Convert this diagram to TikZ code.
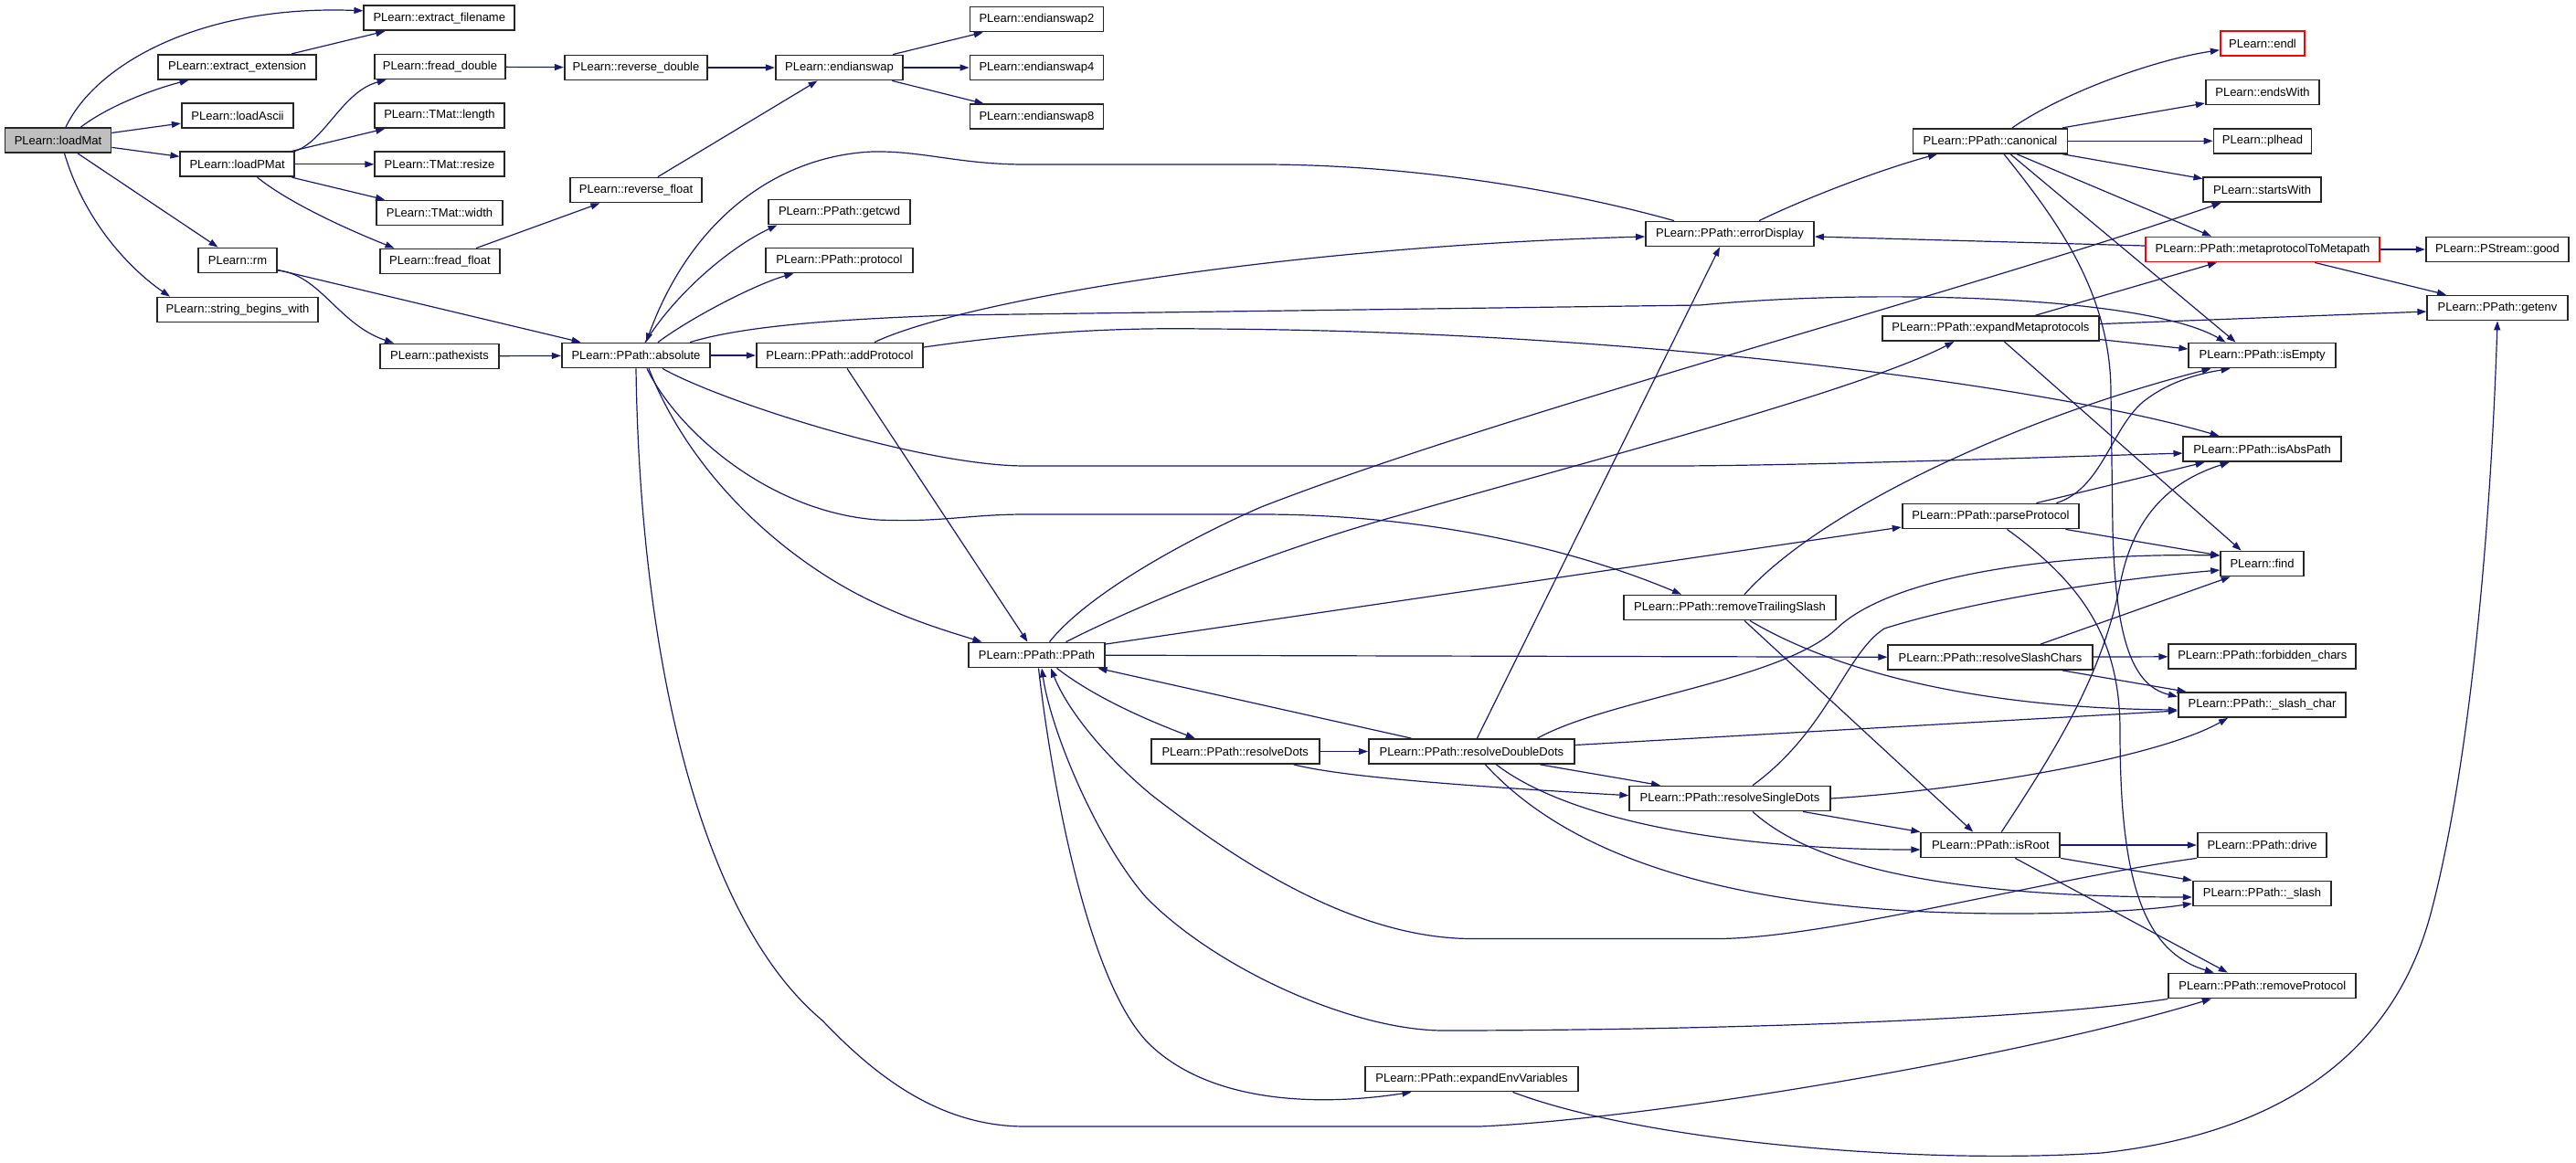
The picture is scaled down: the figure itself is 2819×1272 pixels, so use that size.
\documentclass[tikz,border=0pt]{standalone}
\usepackage{fontspec}
\setmainfont{Liberation Sans}
\usetikzlibrary{arrows.meta}
\pgfdeclarelayer{bg}
\pgfsetlayers{bg,main}
\definecolor{edgec}{HTML}{191970}
\definecolor{rootfill}{HTML}{BFBFBF}
\begin{document}
\begin{tikzpicture}[x=1pt,y=-1pt,
  fn/.style={draw=black!85, line width=1.8pt, fill=white, minimum height=27pt, inner xsep=2pt, inner ysep=0pt, font=\fontsize{13}{15}\selectfont},
  redfn/.style={fn, draw=red},
  edg/.style={draw=edgec, line width=1.2pt, -{Triangle[length=10pt,width=7pt]}}]
\useasboundingbox (0,0) rectangle (2819,1272);
% ---------- nodes
\node[fn,fill=rootfill,minimum width=116pt] (loadMat) at (63.5,153.5) {PLearn::loadMat};
\node[fn,minimum width=165pt] (extractFilename) at (480.8,19.8) {PLearn::extract\_filename};
\node[fn,minimum width=172.5pt] (extractExtension) at (259.6,73.3) {PLearn::extract\_extension};
\node[fn,minimum width=122.5pt] (loadAscii) at (260,126.5) {PLearn::loadAscii};
\node[fn,minimum width=124.5pt] (loadPMat) at (259.6,179.8) {PLearn::loadPMat};
\node[fn,minimum width=143.5pt] (freadDouble) at (481.5,73) {PLearn::fread\_double};
\node[fn,minimum width=141.5pt] (tmatLength) at (481,126.5) {PLearn::TMat::length};
\node[fn,minimum width=141.5pt] (tmatResize) at (481,179.8) {PLearn::TMat::resize};
\node[fn,minimum width=138.5pt] (tmatWidth) at (481,233) {PLearn::TMat::width};
\node[fn,minimum width=130.5pt] (freadFloat) at (481.5,286) {PLearn::fread\_float};
\node[fn,minimum width=85.5pt] (rm) at (260,285) {PLearn::rm};
\node[fn,minimum width=176.5pt] (stringBegins) at (260,339) {PLearn::string\_begins\_with};
\node[fn,minimum width=156.5pt] (reverseDouble) at (696,74) {PLearn::reverse\_double};
\node[fn,minimum width=144.5pt] (reverseFloat) at (696,208) {PLearn::reverse\_float};
\node[fn,minimum width=139.5pt] (endianswap) at (918.5,74) {PLearn::endianswap};
\node[fn,minimum width=129.5pt] (pathexists) at (481,390) {PLearn::pathexists};
\node[fn,minimum width=162.5pt] (absolute) at (696,389) {PLearn::PPath::absolute};
\node[fn,minimum width=155.5pt] (getcwd) at (918.5,232) {PLearn::PPath::getcwd};
\node[fn,minimum width=160.5pt] (protocol) at (918.5,285) {PLearn::PPath::protocol};
\node[fn,minimum width=182.5pt] (addProtocol) at (919,389) {PLearn::PPath::addProtocol};
\node[fn,minimum width=146pt] (endianswapTwo) at (1134.4,21) {PLearn::endianswap2};
\node[fn,minimum width=146pt] (endianswapFour) at (1134.4,74) {PLearn::endianswap4};
\node[fn,minimum width=146pt] (endianswapEight) at (1134.4,127.8) {PLearn::endianswap8};
\node[fn,minimum width=149.5pt] (PPath) at (1134.5,717) {PLearn::PPath::PPath};
\node[fn,minimum width=184pt] (resolveDots) at (1351.7,822.5) {PLearn::PPath::resolveDots};
\node[fn,minimum width=225pt] (resolveDoubleDots) at (1610.4,822.5) {PLearn::PPath::resolveDoubleDots};
\node[fn,minimum width=233.5pt] (expandEnvVariables) at (1610.5,1181) {PLearn::PPath::expandEnvVariables};
\node[fn,minimum width=184pt] (errorDisplay) at (1893,256) {PLearn::PPath::errorDisplay};
\node[fn,minimum width=232pt] (removeTrailingSlash) at (1893,665) {PLearn::PPath::removeTrailingSlash};
\node[fn,minimum width=219.5pt] (resolveSingleDots) at (1893,874) {PLearn::PPath::resolveSingleDots};
\node[fn,minimum width=169pt] (canonical) at (2178,154.3) {PLearn::PPath::canonical};
\node[fn,minimum width=237.5pt] (expandMetaprotocols) at (2178.4,359.6) {PLearn::PPath::expandMetaprotocols};
\node[fn,minimum width=193.5pt] (parseProtocol) at (2178.4,565) {PLearn::PPath::parseProtocol};
\node[fn,minimum width=223.5pt] (resolveSlashChars) at (2178,719.5) {PLearn::PPath::resolveSlashChars};
\node[fn,minimum width=152pt] (isRoot) at (2178.3,925) {PLearn::PPath::isRoot};
\node[redfn,minimum width=92.5pt] (endl) at (2476,47.8) {PLearn::endl};
\node[fn,minimum width=124.5pt] (endsWith) at (2476,101) {PLearn::endsWith};
\node[fn,minimum width=107pt] (plhead) at (2476,154.3) {PLearn::plhead};
\node[fn,minimum width=128.5pt] (startsWith) at (2475.6,207.6) {PLearn::startsWith};
\node[redfn,minimum width=256.5pt] (metaToMeta) at (2476,273) {PLearn::PPath::metaprotocolToMetapath};
\node[fn,minimum width=160.5pt] (isEmpty) at (2475.6,389) {PLearn::PPath::isEmpty};
\node[fn,minimum width=172.5pt] (isAbsPath) at (2475.6,491.6) {PLearn::PPath::isAbsPath};
\node[fn,minimum width=91pt] (find) at (2475.6,617) {PLearn::find};
\node[fn,minimum width=205pt] (forbiddenChars) at (2475.8,718.4) {PLearn::PPath::forbidden\_chars};
\node[fn,minimum width=183.5pt] (slashChar) at (2475.5,771.5) {PLearn::PPath::\_slash\_char};
\node[fn,minimum width=141.5pt] (drive) at (2475.5,925) {PLearn::PPath::drive};
\node[fn,minimum width=151.5pt] (slash) at (2475.5,978) {PLearn::PPath::\_slash};
\node[fn,minimum width=205pt] (removeProtocol) at (2475.8,1079) {PLearn::PPath::removeProtocol};
\node[fn,minimum width=156.5pt] (PStreamGood) at (2733,273) {PLearn::PStream::good};
\node[fn,minimum width=153.5pt] (getenv) at (2733,337) {PLearn::PPath::getenv};
% ---------- edges
\begin{pgfonlayer}{bg}
% loadMat
\draw[edg] ([xshift=8.5pt]loadMat.north) .. controls (105,70) and (220,5) .. ([yshift=8pt]extractFilename.west);
\draw[edg] ([xshift=25pt]loadMat.north) .. controls (120,115) and (170,97) .. ([xshift=-53pt]extractExtension.south);
\draw[edg] (loadMat) -- (loadAscii);
\draw[edg] (loadMat) -- (loadPMat);
\draw[edg] (loadMat) -- (rm);
\draw[edg] ([xshift=7pt]loadMat.south) .. controls (95,250) and (150,300) .. ([xshift=-74pt]stringBegins.north);
\draw[edg] (extractExtension) -- (extractFilename);
% loadPMat
\draw[edg] (loadPMat.north east) .. controls (355,155) and (375,100) .. ([xshift=-58.8pt]freadDouble.south);
\draw[edg] (loadPMat) -- (tmatLength);
\draw[edg] (loadPMat) -- (tmatResize);
\draw[edg] (loadPMat) -- (tmatWidth);
\draw[edg] ([xshift=22pt]loadPMat.south) .. controls (320,225) and (390,255) .. ([xshift=-50pt]freadFloat.north);
\draw[edg] (freadDouble) -- (reverseDouble);
\draw[edg] (reverseDouble) -- (endianswap);
\draw[edg] (freadFloat) -- (reverseFloat);
\draw[edg] (reverseFloat) -- (endianswap);
\draw[edg] (endianswap) -- (endianswapTwo);
\draw[edg] (endianswap) -- (endianswapFour);
\draw[edg] (endianswap) -- (endianswapEight);
% rm
\draw[edg] (rm) -- (absolute);
\draw[edg] ([yshift=-11pt]rm.east) .. controls (350,300) and (370,355) .. ([xshift=-50pt]pathexists.north);
\draw[edg] (pathexists) -- (absolute);
% absolute
\draw[edg] ([xshift=10pt]absolute.north) .. controls (740,320) and (800,270) .. ([xshift=-68pt]getcwd.south);
\draw[edg] ([xshift=24pt]absolute.north) .. controls (760,345) and (830,310) .. ([xshift=-50pt]protocol.south);
\draw[edg] (absolute) -- (addProtocol);
\draw[edg] ([xshift=-61pt]errorDisplay.north) .. controls (1720,210) and (1550,180) .. (1380,180) -- (1122,180) .. controls (1050,180) and (1010,165) .. (955,166) .. controls (860,170) and (760,230) .. ([xshift=11pt]absolute.north);
\draw[edg] ([xshift=59pt]absolute.north) .. controls (810,358) and (900,350) .. (1040,345) -- (1860,334) .. controls (2060,315) and (2350,325) .. ([xshift=-40pt]isEmpty.north);
\draw[edg] ([xshift=29pt]absolute.south) .. controls (790,440) and (1010,510) .. (1122,510) -- (1840,510) .. controls (2000,509) and (2250,500) .. ([yshift=-4.5pt]isAbsPath.west);
\draw[edg] ([xshift=12pt]absolute.south) .. controls (740,470) and (840,560) .. (960,569) .. controls (1030,572) and (1060,563) .. (1122,563) -- (1380,563) .. controls (1560,563) and (1720,600) .. ([xshift=-53pt]removeTrailingSlash.north);
\draw[edg] ([xshift=14pt]absolute.south) .. controls (760,530) and (870,620) .. (960,661) .. controls (1000,680) and (1040,692) .. ([xshift=-60pt]PPath.north);
\draw[edg] (absolute.south) .. controls (700,700) and (760,1000) .. (900,1117) .. controls (960,1180) and (1030,1233) .. (1122,1233) -- (1619,1233) .. controls (1800,1225) and (2200,1160) .. ([xshift=-56pt]removeProtocol.south);
% addProtocol
\draw[edg] ([xshift=38pt]addProtocol.north) .. controls (1050,330) and (1400,270) .. ([yshift=-3pt]errorDisplay.west);
\draw[edg] ([yshift=9pt]addProtocol.east) .. controls (1150,360) and (1250,359) .. (1320,360) .. controls (1800,362) and (2250,425) .. ([xshift=-47pt]isAbsPath.north);
\draw[edg] ([xshift=8pt]addProtocol.south) -- ([xshift=-10pt]PPath.north);
% PPath
\draw[edg] ([xshift=14pt]PPath.north) .. controls (1190,650) and (1300,590) .. (1380,555) .. controls (1650,450) and (2150,320) .. ([xshift=-45pt]startsWith.south);
\draw[edg] ([xshift=32pt]PPath.north) .. controls (1250,660) and (1400,600) .. (1535,563) .. controls (1700,515) and (2030,430) .. ([xshift=-40pt]expandMetaprotocols.south);
\draw[edg] ([yshift=12pt]PPath.east) -- ([yshift=-12pt]parseProtocol.west);
\draw[edg] (PPath) -- (resolveSlashChars);
\draw[edg] ([xshift=22pt]PPath.south) .. controls (1200,765) and (1260,790) .. ([xshift=-44pt]resolveDots.north);
\draw[edg] ([xshift=2pt]PPath.south) .. controls (1150,850) and (1190,1080) .. (1260,1145) .. controls (1330,1210) and (1450,1210) .. ([xshift=-66pt]expandEnvVariables.south);
\draw[edg] (removeProtocol.south west) .. controls (2200,1120) and (1800,1128) .. (1580,1128) .. controls (1480,1128) and (1330,1060) .. (1254,982) .. controls (1200,920) and (1150,800) .. ([xshift=5.5pt]PPath.south);
\draw[edg] (drive.south west) .. controls (2250,960) and (2000,1027) .. (1880,1027.5) -- (1610,1027.5) .. controls (1480,1027) and (1350,940) .. (1260,870) .. controls (1200,820) and (1165,770) .. ([xshift=15.5pt]PPath.south);
\draw[edg] ([xshift=-66pt]resolveDoubleDots.north) -- ([xshift=67pt]PPath.south);
% resolveDots
\draw[edg] (resolveDots) -- (resolveDoubleDots);
\draw[edg] ([xshift=64pt]resolveDots.south) .. controls (1460,848) and (1560,858) .. ([yshift=3.3pt]resolveSingleDots.west);
% resolveDoubleDots
\draw[edg] ([xshift=6pt]resolveDoubleDots.north) -- ([xshift=-11pt]errorDisplay.south);
\draw[edg] ([xshift=72pt]resolveDoubleDots.north) .. controls (1760,765) and (1950,745) .. (2010,688) .. controls (2070,630) and (2250,605) .. ([yshift=9pt]find.west);
\draw[edg] ([yshift=7pt]resolveDoubleDots.east) -- ([yshift=-6.5pt]slashChar.west);
\draw[edg] ([xshift=75pt]resolveDoubleDots.south) -- ([xshift=-76pt]resolveSingleDots.north);
\draw[edg] ([xshift=27pt]resolveDoubleDots.south) .. controls (1720,900) and (1900,930) .. ([yshift=-5pt]isRoot.west);
\draw[edg] ([xshift=15pt]resolveDoubleDots.south) .. controls (1720,940) and (1900,1000) .. (2200,1000) .. controls (2300,1000) and (2360,995) .. ([yshift=-11pt]slash.west);
% resolveSingleDots
\draw[edg] ([xshift=25pt]resolveSingleDots.north) .. controls (2000,800) and (2020,715) .. (2062,688) .. controls (2150,660) and (2300,635) .. ([yshift=-7pt]find.west);
\draw[edg] (resolveSingleDots.east) .. controls (2150,865) and (2360,830) .. ([xshift=-37.5pt]slashChar.south);
\draw[edg] ([xshift=80pt]resolveSingleDots.south) -- (isRoot.north west);
\draw[edg] ([xshift=25pt]resolveSingleDots.south) .. controls (1980,945) and (2120,982) .. ([yshift=-4pt]slash.west);
% removeTrailingSlash
\draw[edg] ([xshift=16pt]removeTrailingSlash.north) .. controls (1990,560) and (2200,460) .. ([xshift=-56pt]isEmpty.south);
\draw[edg] ([xshift=16pt]removeTrailingSlash.south) -- ([xshift=-19pt]isRoot.north);
\draw[edg] ([xshift=22pt]removeTrailingSlash.south) .. controls (2000,730) and (2150,775) .. ([yshift=-5.5pt]slashChar.west);
% resolveSlashChars
\draw[edg] (resolveSlashChars) -- (forbiddenChars);
\draw[edg] ([xshift=79pt]resolveSlashChars.south) -- ([xshift=-83pt]slashChar.north);
\draw[edg] ([xshift=55pt]resolveSlashChars.north) -- ([xshift=-35pt]find.south);
% isRoot
\draw[edg] (isRoot) -- (drive);
\draw[edg] (isRoot.south east) -- (slash.north west);
\draw[edg] ([xshift=27pt]isRoot.south) -- ([xshift=-38pt]removeProtocol.north);
\draw[edg] ([xshift=12pt]isRoot.north) .. controls (2250,820) and (2300,740) .. (2320,640) .. controls (2335,560) and (2380,525) .. ([xshift=-36pt]isAbsPath.south);
% parseProtocol
\draw[edg] ([xshift=50pt]parseProtocol.north) -- ([xshift=-63pt]isAbsPath.south);
\draw[edg] ([xshift=72pt]parseProtocol.north) .. controls (2300,535) and (2310,470) .. (2345,440) .. controls (2370,420) and (2400,410) .. ([xshift=-35pt]isEmpty.south);
\draw[edg] ([xshift=82pt]parseProtocol.south) -- ([yshift=9pt]find.west);
\draw[edg] ([xshift=18pt]parseProtocol.south) .. controls (2280,640) and (2320,700) .. (2320,800) .. controls (2320,950) and (2340,1040) .. ([xshift=-53pt]removeProtocol.north);
% canonical
\draw[edg] ([xshift=15pt]canonical.south) .. controls (2250,240) and (2310,320) .. (2310,430) -- (2312,580) .. controls (2315,690) and (2330,750) .. ([yshift=9pt]slashChar.west);
\draw[edg] ([xshift=22pt]canonical.south) -- ([xshift=-29pt]isEmpty.north);
\draw[edg] ([xshift=29pt]canonical.south) -- ([xshift=-56pt]metaToMeta.north);
\draw[edg] ([xshift=24pt]canonical.north) .. controls (2260,100) and (2360,65) .. ([yshift=-7pt]endl.west);
\draw[edg] ([xshift=79pt]canonical.north) -- ([yshift=-12pt]endsWith.west);
\draw[edg] (canonical) -- (plhead);
\draw[edg] ([xshift=79pt]canonical.south) -- ([yshift=12pt]startsWith.west);
% errorDisplay
\draw[edg] ([xshift=32pt]errorDisplay.north) .. controls (1980,215) and (2060,185) .. ([xshift=-58pt]canonical.south);
% metaprotocolToMetapath
\draw[edg] ([yshift=4pt]metaToMeta.west) -- ([yshift=-3pt]errorDisplay.east);
\draw[edg] (metaToMeta) -- (PStreamGood);
\draw[edg] ([xshift=57pt]metaToMeta.south) -- ([xshift=-56pt]getenv.north);
% expandMetaprotocols
\draw[edg] ([xshift=49pt]expandMetaprotocols.north) -- ([xshift=-50pt]metaToMeta.south);
\draw[edg] ([yshift=5pt]expandMetaprotocols.east) -- ([yshift=-4pt]getenv.west);
\draw[edg] ([yshift=-12pt]expandMetaprotocols.east) -- ([yshift=7pt]isEmpty.west);
\draw[edg] ([xshift=15pt]expandMetaprotocols.south) -- ([xshift=-23pt]find.north);
% expandEnvVariables
\draw[edg] ([xshift=45pt]expandEnvVariables.south) .. controls (1800,1250) and (2100,1275) .. (2300,1262) .. controls (2500,1240) and (2620,1150) .. (2660,1000) .. controls (2700,850) and (2725,600) .. (getenv.south);
\end{pgfonlayer}
\end{tikzpicture}
\end{document}
